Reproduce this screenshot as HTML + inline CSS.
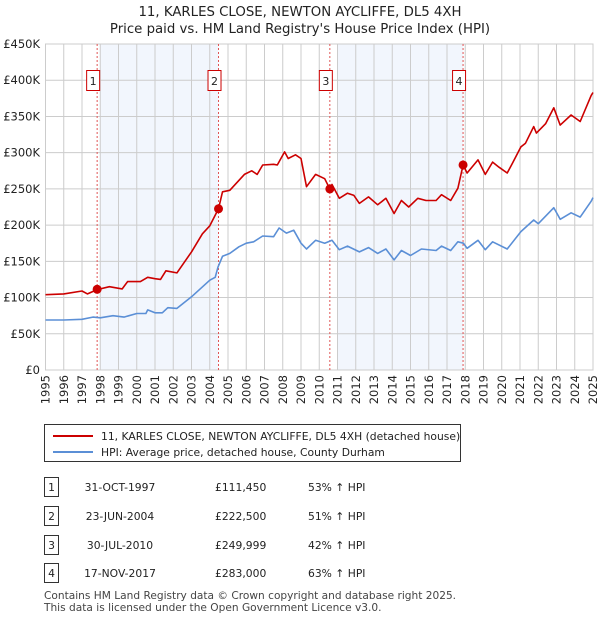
<!DOCTYPE html>
<html><head><meta charset="utf-8"><style>
body{margin:0;background:#fff;font-family:"Liberation Sans","DejaVu Sans",sans-serif;}
svg text{font-family:"DejaVu Sans","Liberation Sans",sans-serif;}
</style></head><body>
<svg id="c" width="600" height="620" xmlns="http://www.w3.org/2000/svg">
<text x="300" y="16" text-anchor="middle" font-size="13.3" fill="#222">11, KARLES CLOSE, NEWTON AYCLIFFE, DL5 4XH</text>
<text x="300" y="33" text-anchor="middle" font-size="13.3" fill="#222">Price paid vs. HM Land Registry's House Price Index (HPI)</text>
<g id="plot"></g>
<g>
<rect x="44.5" y="424.5" width="416" height="37" fill="#fff" stroke="#333"/>
<line x1="53" y1="436" x2="93" y2="436" stroke="#cc0000" stroke-width="2"/>
<text x="101" y="440" font-size="10.75" fill="#222">11, KARLES CLOSE, NEWTON AYCLIFFE, DL5 4XH (detached house)</text>
<line x1="53" y1="452" x2="93" y2="452" stroke="#5b8fd6" stroke-width="2"/>
<text x="101" y="456" font-size="10.75" fill="#222">HPI: Average price, detached house, County Durham</text>
</g>
<g id="tbl" font-size="10.75" fill="#222"></g>
<text x="44" y="599" font-size="10.6" fill="#444">Contains HM Land Registry data © Crown copyright and database right 2025.</text>
<text x="44" y="611" font-size="10.6" fill="#444">This data is licensed under the Open Government Licence v3.0.</text>
</svg>
<script>
const hpiYears=[1995,1996,1997,1997.6,1998,1998.7,1999.3,2000,2000.5,2000.6,2001,2001.4,2001.7,2002.2,2003,2004,2004.3,2004.45,2004.7,2005.1,2005.6,2006,2006.4,2006.9,2007.5,2007.8,2008.2,2008.6,2009,2009.3,2009.8,2010.3,2010.7,2011.1,2011.55,2012.2,2012.7,2013.2,2013.65,2014.1,2014.5,2015,2015.6,2016.4,2016.7,2017.2,2017.6,2017.9,2018.1,2018.7,2019.1,2019.5,2020.3,2021.05,2021.75,2022,2022.85,2023.2,2023.8,2024.3,2024.9,2025];
const hpiValues=[69,69,70,73,72,75,73,78,78,83,79,79,86,85,101,124,128,142,157,161,170,175,177,185,184,196,189,193,175,167,179,175,179,166,171,163,169,161,167,152,165,158,167,165,171,165,177,175,168,179,166,177,167,191,207,202,224,208,217,211,233,238];
const priceYears=[1995,1996,1997,1997.3,1997.83,1998.5,1999.2,1999.5,2000.2,2000.6,2001,2001.3,2001.6,2002.2,2003,2003.6,2004,2004.48,2004.7,2005.1,2005.9,2006.3,2006.6,2006.9,2007.5,2007.7,2008.1,2008.3,2008.7,2009,2009.3,2009.8,2010.3,2010.58,2010.7,2011.1,2011.55,2011.9,2012.2,2012.7,2013.2,2013.65,2014.1,2014.5,2014.9,2015.4,2015.85,2016.4,2016.7,2017.2,2017.6,2017.88,2018.1,2018.7,2019.1,2019.5,2019.85,2020.3,2020.6,2021.05,2021.3,2021.75,2021.9,2022.4,2022.85,2023.2,2023.8,2024.3,2024.9,2025];
const priceValues=[104,105,109,105,111,115,112,122,122,128,126,125,137,134,163,188,199,222.5,246,248,270,275,270,283,284,283,301,292,297,292,253,270,264,250,256,237,244,241,230,239,228,237,216,234,225,237,234,234,242,234,251,283,272,290,270,287,280,272,286,308,313,336,327,340,362,338,352,343,379,383];
const sales=[{n:"1",date:"31-OCT-1997",t:1997.83,v:111.45,price:"£111,450",pct:"53% ↑ HPI"},{n:"2",date:"23-JUN-2004",t:2004.48,v:222.5,price:"£222,500",pct:"51% ↑ HPI"},{n:"3",date:"30-JUL-2010",t:2010.58,v:249.999,price:"£249,999",pct:"42% ↑ HPI"},{n:"4",date:"17-NOV-2017",t:2017.88,v:283,price:"£283,000",pct:"63% ↑ HPI"}];
const shades=[[1998,2004.48],[2011,2017.88]];
const yTicks=[0,50,100,150,200,250,300,350,400,450];
const xTicks=[];for(let y=1995;y<=2025;y++)xTicks.push(y);
const X0=45.5,X1=593,Y0=370,Y1=44;
const xs=t=>X0+(t-1995)/30*(X1-X0);
const ys=v=>Y0-v/450*(Y0-Y1);
const NS="http://www.w3.org/2000/svg";
const plot=document.getElementById('plot');
function mk(tag,attrs,parent){const e=document.createElementNS(NS,tag);for(const k in attrs)e.setAttribute(k,attrs[k]);(parent||plot).appendChild(e);return e;}
shades.forEach(s=>{const r=mk('rect',{x:xs(s[0]),y:Y1,width:xs(s[1])-xs(s[0]),height:Y0-Y1,fill:'#eef3fc',opacity:0.75});

});
xTicks.forEach(t=>{mk('line',{x1:xs(t),x2:xs(t),y1:Y1,y2:Y0,stroke:'#ccc','stroke-width':1});
const tx=mk('text',{x:0,y:0,'font-size':11.5,fill:'#222','text-anchor':'end',transform:`translate(${xs(t)+4},${Y0+5}) rotate(-90)`});tx.textContent=t;

});
yTicks.forEach(v=>{mk('line',{x1:X0,x2:X1,y1:ys(v),y2:ys(v),stroke:'#ccc','stroke-width':1});
const tx=mk('text',{x:40,y:ys(v)+4,'font-size':11.5,fill:'#222','text-anchor':'end'});tx.textContent=v===0?'£0':'£'+v+'K';

});
mk('rect',{x:X0,y:Y1,width:X1-X0,height:Y0-Y1,fill:'none',stroke:'#ccc'});
sales.forEach(s=>{const l=mk('line',{x1:xs(s.t),x2:xs(s.t),y1:Y1,y2:Y0,stroke:'#e05555','stroke-dasharray':'2,2','stroke-width':1});

});
function path(xa,va,col,name){const d=xa.map((t,i)=>(i?'L':'M')+xs(t).toFixed(1)+','+ys(va[i]).toFixed(1)).join('');
const p=mk('path',{d:d,fill:'none',stroke:col,'stroke-width':1.6,'stroke-linejoin':'round'});

}
path(hpiYears,hpiValues,'#5b8fd6','hpi-line');
path(priceYears,priceValues,'#cc0000','price-line');
sales.forEach(s=>{const c=mk('circle',{cx:xs(s.t),cy:ys(s.v),r:4.5,fill:'#cc0000'});


const g=mk('g',{});


mk('rect',{x:xs(s.t)-10.5,y:70.5,width:13,height:20,fill:'#fff',stroke:'#cc0000'},g);
const t=mk('text',{x:xs(s.t)-4,y:85,'font-size':11,fill:'#222','text-anchor':'middle'},g);t.textContent=s.n;});
const tbl=document.getElementById('tbl');
const rowY=[488,517,546,574];
sales.forEach((s,i)=>{const y=rowY[i];const g=mk('g',{},tbl);


mk('rect',{x:44.5,y:y-10.5,width:14,height:19,fill:'#fff',stroke:'#333'},g);
const a=mk('text',{x:51.5,y:y+3,'text-anchor':'middle'},g);a.textContent=s.n;
const b=mk('text',{x:120,y:y+3,'text-anchor':'middle'},g);b.textContent=s.date;
const c=mk('text',{x:215,y:y+3},g);c.textContent=s.price;
const d=mk('text',{x:308,y:y+3},g);d.textContent=s.pct;});
</script>
</body></html>
